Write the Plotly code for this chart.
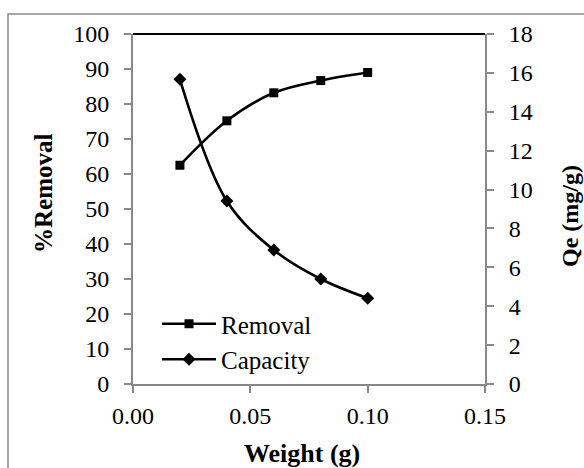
import plotly.graph_objects as go

weight = [0.02, 0.04, 0.06, 0.08, 0.10]
removal = [62.5, 75.2, 83.2, 86.7, 89.0]
capacity = [15.67, 9.41, 6.89, 5.40, 4.41]

x_ticks = [0.00, 0.05, 0.10, 0.15]
x_tick_labels = ["0.00", "0.05", "0.10", "0.15"]

FONT = "Liberation Serif"
GRAY = "#898989"

W, H = 584, 468
L, R, T, B = 133, 485, 34, 384  # plot area in px

def px(xp):
    return (xp - L) / (R - L)

def py(yp):
    return (B - yp) / (B - T)

fig = go.Figure()
fig.add_trace(go.Scatter(
    x=weight, y=removal, name="Removal", mode="lines+markers",
    line=dict(color="black", width=2.6, shape="spline"),
    marker=dict(symbol="square", size=9, color="black"),
    yaxis="y",
))
fig.add_trace(go.Scatter(
    x=weight, y=capacity, name="Capacity", mode="lines+markers",
    line=dict(color="black", width=2.6, shape="spline"),
    marker=dict(symbol="diamond", size=10, color="black"),
    yaxis="y2",
))

fig.update_layout(
    width=W, height=H,
    margin=dict(l=L, r=W - R, t=T, b=H - B, pad=0),
    paper_bgcolor="white", plot_bgcolor="white",
    font=dict(family=FONT, size=24, color="black"),
    showlegend=True,
    hovermode=False,
    legend=dict(
        x=px(157), y=py(301), xanchor="left", yanchor="top",
        bgcolor="rgba(0,0,0,0)", borderwidth=0,
        font=dict(family=FONT, size=25, color="black"),
        itemwidth=54, tracegroupgap=0,
    ),
    xaxis=dict(
        range=[0, 0.15], tickvals=x_ticks, ticktext=x_tick_labels,
        showgrid=False, zeroline=False, showline=True,
        linecolor=GRAY, linewidth=1.8,
        ticks="outside", ticklen=7, tickwidth=1.8, tickcolor=GRAY,
        tickfont=dict(family=FONT, size=24, color="black"),
        ticklabelstandoff=2,
    ),
    yaxis=dict(
        range=[0, 100], dtick=10, tick0=0,
        showgrid=False, zeroline=False, showline=True,
        linecolor=GRAY, linewidth=1.8,
        ticks="outside", ticklen=7, tickwidth=1.8, tickcolor=GRAY,
        tickfont=dict(family=FONT, size=24, color="black"),
        ticklabelstandoff=10,
    ),
    yaxis2=dict(
        range=[0, 18], dtick=2, tick0=0,
        overlaying="y", side="right",
        showgrid=False, zeroline=False, showline=True,
        linecolor=GRAY, linewidth=1.8,
        ticks="outside", ticklen=7, tickwidth=1.8, tickcolor=GRAY,
        tickfont=dict(family=FONT, size=24, color="black"),
        ticklabelstandoff=10,
    ),
    shapes=[
        dict(type="line", xref="paper", yref="paper", x0=0, x1=1, y0=1, y1=1,
             line=dict(color="black", width=1.8)),
        dict(type="rect", xref="paper", yref="paper",
             x0=px(8), x1=px(W + 20), y0=py(14), y1=py(H + 20),
             line=dict(color=GRAY, width=1.5), layer="below"),
    ],
    annotations=[
        dict(text="<b>%Removal</b>", xref="paper", yref="paper",
             x=px(43), y=py(194), textangle=-90, showarrow=False,
             xanchor="center", yanchor="middle",
             font=dict(family=FONT, size=25, color="black")),
        dict(text="<b>Qe (mg/g)</b>", xref="paper", yref="paper",
             x=px(570), y=py(216), textangle=-90, showarrow=False,
             xanchor="center", yanchor="middle",
             font=dict(family=FONT, size=24, color="black")),
        dict(text="<b>Weight (g)</b>", xref="paper", yref="paper",
             x=px(302), y=py(453), showarrow=False,
             xanchor="center", yanchor="middle",
             font=dict(family=FONT, size=26, color="black")),
    ],
)

fig.write_html(
    "out.html",
    config={"displayModeBar": False},
    post_script="document.body.style.margin='0';document.body.style.overflow='hidden';",
)
